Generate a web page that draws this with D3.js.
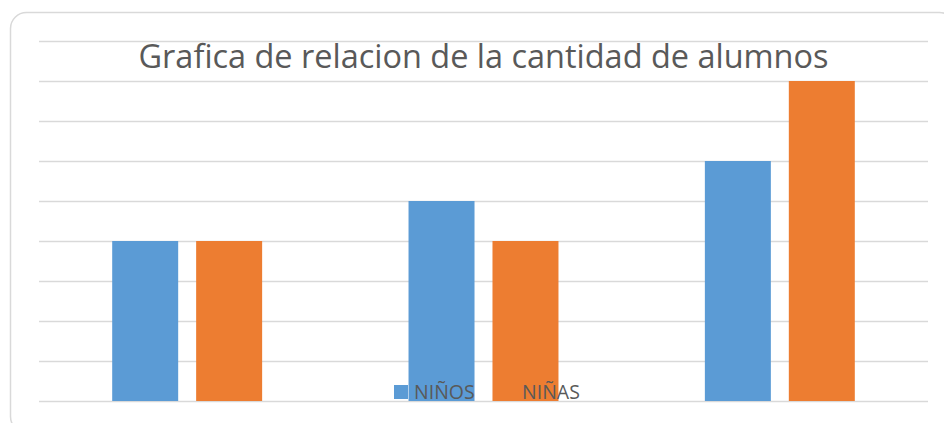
<!DOCTYPE html>
<html>
<head>
<meta charset="utf-8">
<script src="https://cdn.jsdelivr.net/npm/d3@7"></script>
<style>
  body { margin: 0; background: #fff; }
  svg { display: block; }
</style>
</head>
<body>
<svg width="944" height="423"></svg>
<script>
const categories = ["Grupo 1", "Grupo 2", "Grupo 3"];
const series = ["NIÑOS", "NIÑAS"];
const ninos = [4, 5, 6];
const ninas = [4, 4, 8];
const yTicks = [0, 1, 2, 3, 4, 5, 6, 7, 8, 9];
const colors = ["#5B9BD5", "#ED7D31"];

const rows = categories.map((c, i) => ({ cat: c, values: [ninos[i], ninas[i]] }));

const svg = d3.select("svg");
const plot = { left: 39, right: 928, top: 41, bottom: 401 };

// card border
svg.append("rect")
  .attr("x", 10.5).attr("y", 12.5)
  .attr("width", 945).attr("height", 420)
  .attr("rx", 16)
  .attr("fill", "#fff")
  .attr("stroke", "#d9d9d9")
  .attr("stroke-width", 1.5);

const y = d3.scaleLinear().domain([0, 9]).range([plot.bottom, plot.top]);

const x0 = d3.scaleBand()
  .domain(categories)
  .range([plot.left, plot.right])
  .paddingInner(0.494)
  .paddingOuter(0.247);

const x1 = d3.scaleBand()
  .domain(series)
  .range([0, x0.bandwidth()])
  .paddingInner(0.214);

// gridlines
svg.append("g")
  .selectAll("line")
  .data(yTicks)
  .enter()
  .append("line")
  .attr("x1", plot.left)
  .attr("x2", plot.right)
  .attr("y1", d => Math.round(y(d)) + 0.5)
  .attr("y2", d => Math.round(y(d)) + 0.5)
  .attr("stroke", "#d9d9d9")
  .attr("stroke-width", 1.5);

// title
svg.append("text")
  .attr("x", (plot.left + plot.right) / 2)
  .attr("y", 68)
  .attr("text-anchor", "middle")
  .attr("font-family", "'Open Sans', sans-serif")
  .attr("font-size", 32)
  .attr("textLength", 690)
  .attr("lengthAdjust", "spacingAndGlyphs")
  .attr("fill", "#595959")
  .text("Grafica de relacion de la cantidad de alumnos");

// bars
const group = svg.append("g")
  .selectAll("g")
  .data(rows)
  .enter()
  .append("g")
  .attr("transform", d => "translate(" + x0(d.cat) + ",0)");

group.selectAll("rect")
  .data(d => d.values.map((v, i) => ({ key: series[i], value: v, i: i })))
  .enter()
  .append("rect")
  .attr("x", d => x1(d.key))
  .attr("y", d => y(d.value))
  .attr("width", x1.bandwidth())
  .attr("height", d => y(0) - y(d.value))
  .attr("fill", d => colors[d.i]);

// legend (drawn over the bars, like the original)
const legendX = [394, 502];
const legend = svg.append("g")
  .selectAll("g")
  .data(series)
  .enter()
  .append("g")
  .attr("transform", (d, i) => "translate(" + legendX[i] + ",385)");

legend.append("rect")
  .attr("width", 14)
  .attr("height", 14)
  .attr("fill", (d, i) => colors[i]);

legend.append("text")
  .attr("x", 20)
  .attr("y", 14)
  .attr("font-family", "'Open Sans', sans-serif")
  .attr("font-size", 19.5)
  .attr("fill", "#595959")
  .text(d => d);
</script>
</body>
</html>
